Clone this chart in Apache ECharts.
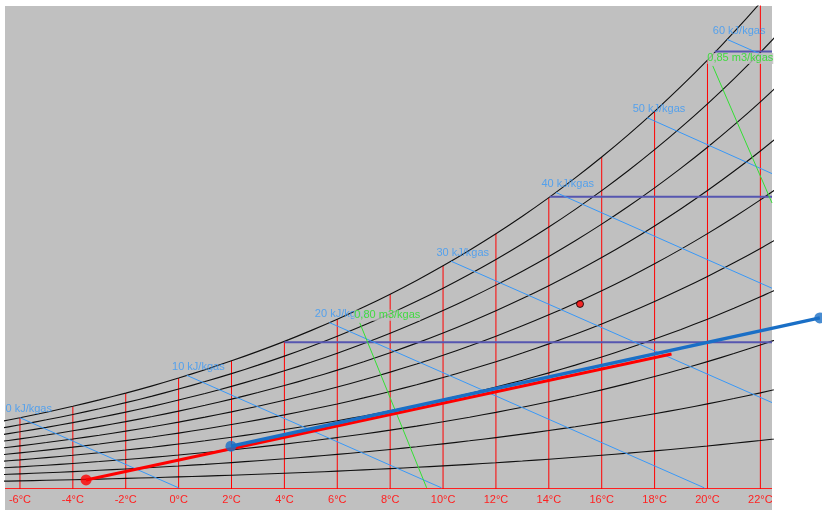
<!DOCTYPE html>
<html>
<head>
<meta charset="utf-8">
<title>Diagramme psychrométrique</title>
<script src="https://cdn.jsdelivr.net/npm/echarts@6/dist/echarts.min.js"></script>
<style>
  html, body { margin: 0; padding: 0; background: #ffffff; }
  #chart { width: 822px; height: 510px; }
</style>
</head>
<body>
<div id="chart"></div>
<script>
// Dry-bulb temperature table (°C) and saturation humidity ratio (g/kg dry gas)
const temps = [-7, -6, -5, -4, -3, -2, -1, 0, 1, 2, 3, 4, 5, 6, 7, 8, 9, 10, 11, 12, 13, 14, 15, 16, 17, 18, 19, 20, 21, 22, 23];
const wSat = [2.229, 2.408, 2.599, 2.803, 3.022, 3.255, 3.505, 3.775, 4.061, 4.365, 4.690, 5.034, 5.403, 5.795, 6.213, 6.657, 7.129, 7.632, 8.167, 8.733, 9.335, 9.974, 10.652, 11.370, 12.131, 12.940, 13.795, 14.700, 15.659, 16.673, 17.746];
const pressure = 101.325; // kPa

// Relative humidity curves (%)
const rhLevels = [10, 20, 30, 40, 50, 60, 70, 80, 90, 100];

// Dry-bulb verticals and axis tick labels (°C)
const dryBulbTicks = [-6, -4, -2, 0, 2, 4, 6, 8, 10, 12, 14, 16, 18, 20, 22];

// Enthalpy lines: label, start on the saturation curve, end point [°C, g/kg]
const enthalpyLabels = ['0 kJ/kgas', '10 kJ/kgas', '20 kJ/kgas', '30 kJ/kgas', '40 kJ/kgas', '50 kJ/kgas', '60 kJ/kgas'];
const enthalpyStart = [[-6.0, 2.41], [0.3, 3.87], [5.7, 5.68], [10.3, 7.79], [14.27, 10.15], [17.72, 12.72], [20.75, 15.41]];
const enthalpyEnd = [[0, 0], [9.94, 0], [19.88, 0], [22.44, 2.93], [22.44, 6.86], [22.44, 10.80], [22.44, 14.73]];

// Constant humidity ratio lines (g/kg) and their start temperature (°C)
const humidityLevels = [5, 10, 15];
const humidityStart = [4.0, 14.04, 20.28];

// Specific volume lines
const volumeLabels = ['0,80 m3/kgas', '0,85 m3/kgas'];
const volumeStart = [[6.85, 5.67], [20.2, 14.5]];
const volumeEnd = [[9.38, 0], [22.44, 9.79]];

// Process lines and state point [°C, g/kg]
const heatingLine = [[-3.5, 0.27], [18.64, 4.6]];
const supplyLine = [[1.98, 1.43], [24.25, 5.84]];
const statePoint = [15.18, 6.32];

const X_MIN = -6.566, X_MAX = 22.44;
// same scale carried over the full page width for the supply line overlay
const X_MAX_WIDE = 24.332;
const Y_MIN = -0.04, Y_MAX = 16.56;

const FONT = "'Liberation Sans', Arial, sans-serif";
const GRAY = '#c0c0c0';

function satAt(t) {
  return wSat[temps.indexOf(t)];
}

// humidity ratio at a given relative humidity, from the saturation table
function wAtRh(rh, ws) {
  const pws = pressure * ws / (622 + ws);
  const pv = rh / 100 * pws;
  return 622 * pv / (pressure - pv);
}

function segment(name, data, color, width, z) {
  return {
    type: 'line', name: name, data: data, symbol: 'none', silent: true,
    lineStyle: { color: color, width: width }, z: z || 2
  };
}

const series = [];

// dry-bulb verticals up to saturation
dryBulbTicks.forEach(t => {
  series.push(segment('tdb ' + t, [[t, Y_MIN], [t, satAt(t)]], '#ff0000', 1, 2));
});

// relative humidity curves
rhLevels.forEach(rh => {
  series.push({
    type: 'line', name: 'HR ' + rh + '%', symbol: 'none', silent: true, smooth: 0.3,
    data: temps.map((t, i) => [t, wAtRh(rh, wSat[i])]),
    lineStyle: { color: '#101010', width: 1.1 }, z: 3
  });
});

// constant humidity ratio lines
humidityLevels.forEach((w, i) => {
  series.push(segment('w ' + w, [[humidityStart[i], w], [X_MAX, w]], '#5656b0', 2, 4));
});

// enthalpy lines
enthalpyLabels.forEach((lab, i) => {
  series.push(segment(lab, [enthalpyStart[i], enthalpyEnd[i]], '#3898f8', 1, 4));
});
series.push({
  type: 'scatter', name: 'enthalpy labels', silent: true, symbol: 'circle', symbolSize: 1,
  itemStyle: { color: 'rgba(0,0,0,0)' }, z: 6,
  data: enthalpyStart.map((p, i) => ({ value: p, label: { formatter: enthalpyLabels[i] } })),
  label: {
    show: true, position: [-14, -8], align: 'left', verticalAlign: 'middle',
    color: '#3898f8', fontSize: 11, fontFamily: FONT
  }
});

// specific volume lines
volumeLabels.forEach((lab, i) => {
  series.push(segment(lab, [volumeStart[i], volumeEnd[i]], '#33e033', 1, 4));
});
series.push({
  type: 'scatter', name: 'volume labels', silent: true, symbol: 'circle', symbolSize: 1,
  itemStyle: { color: 'rgba(0,0,0,0)' }, z: 7,
  data: volumeStart.map((p, i) => ({ value: p, label: { formatter: volumeLabels[i] } })),
  label: {
    show: true, position: [-5, -7], align: 'left', verticalAlign: 'middle',
    color: '#22e022', fontSize: 11, fontFamily: FONT, backgroundColor: GRAY
  }
});

// process lines
series.push({
  type: 'line', name: 'chauffage', data: heatingLine, symbol: 'none', silent: true,
  lineStyle: { color: '#ff0000', width: 3 }, z: 8
});
series.push({
  type: 'scatter', name: 'chauffage début', data: [heatingLine[0]], symbol: 'circle', symbolSize: 11,
  itemStyle: { color: '#ff0000' }, silent: true, z: 8
});
series.push({
  type: 'line', name: 'soufflage', data: supplyLine, symbol: 'none', silent: true,
  xAxisIndex: 1, yAxisIndex: 1,
  lineStyle: { color: '#1a6fc6', width: 3.5 }, z: 20
});
series.push({
  type: 'scatter', name: 'soufflage points', data: supplyLine, symbol: 'circle', symbolSize: 11,
  xAxisIndex: 1, yAxisIndex: 1,
  itemStyle: { color: '#1a6fc6' }, silent: true, z: 20
});
series.push({
  type: 'scatter', name: 'point', data: [statePoint], symbol: 'circle', symbolSize: 7,
  itemStyle: { color: '#ff0000', borderColor: '#000000', borderWidth: 1 }, silent: true, z: 9
});

const chart = echarts.init(document.getElementById('chart'), null, { renderer: 'canvas' });
chart.setOption({
  animation: false,
  backgroundColor: GRAY,
  grid: [
    { left: 5, right: 50, top: 6, bottom: 21, containLabel: false },
    { left: 5, right: 0, top: 6, bottom: 21, containLabel: false }
  ],
  xAxis: [
    {
      type: 'value', gridIndex: 0, min: X_MIN, max: X_MAX,
      axisLine: { show: true, lineStyle: { color: '#ff2020', width: 1 } },
      axisTick: { show: false },
      splitLine: { show: false },
      axisLabel: {
        customValues: dryBulbTicks, color: '#ff2020', fontSize: 11, fontFamily: FONT, margin: 5,
        formatter: v => v + '°C'
      }
    },
    { type: 'value', gridIndex: 1, min: X_MIN, max: X_MAX_WIDE, show: false, splitLine: { show: false } }
  ],
  yAxis: [
    { type: 'value', gridIndex: 0, min: Y_MIN, max: Y_MAX, show: false, splitLine: { show: false } },
    { type: 'value', gridIndex: 1, min: Y_MIN, max: Y_MAX, show: false, splitLine: { show: false } }
  ],
  graphic: [
    { type: 'rect', shape: { x: 0, y: 0, width: 5, height: 510 }, style: { fill: '#ffffff' }, z: 1, silent: true },
    { type: 'rect', shape: { x: 0, y: 0, width: 822, height: 6 }, style: { fill: '#ffffff' }, z: 1, silent: true },
    { type: 'rect', shape: { x: 772, y: 0, width: 50, height: 510 }, style: { fill: '#ffffff' }, z: 1, silent: true }
  ],
  series: series
});
</script>
</body>
</html>
